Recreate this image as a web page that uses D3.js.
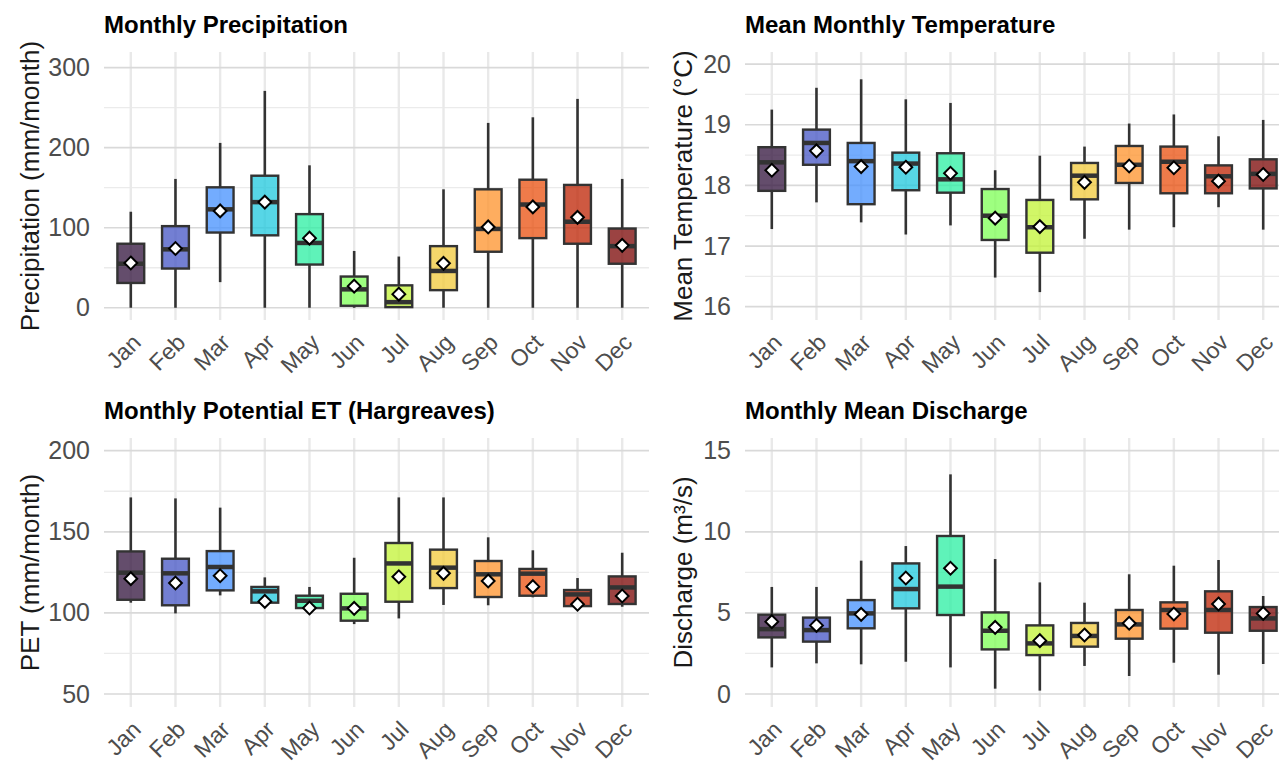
<!DOCTYPE html>
<html>
<head>
<meta charset="utf-8">
<script src="https://cdn.jsdelivr.net/npm/d3@7"></script>
<style>
  html, body { margin: 0; padding: 0; background: #ffffff; overflow: hidden; }
  svg { display: block; font-family: "Liberation Sans", Arial, sans-serif; }
</style>
</head>
<body>
<svg id="chart" width="1279" height="761"></svg>
<script>
// ---------------- DATA ----------------
const months = ["Jan","Feb","Mar","Apr","May","Jun","Jul","Aug","Sep","Oct","Nov","Dec"];

// Precipitation (mm/month)
const precipMin  = [0, 0, 32, 0, 0, 0, 0, 0, 0, 0, 0, 0];
const precipQ1   = [31, 49, 94, 90.5, 54, 2.5, 0.8, 22, 70, 87, 80, 55];
const precipMed  = [55, 73, 123, 132, 81, 23, 7, 46, 98.5, 129, 107.5, 77];
const precipQ3   = [80, 102, 150.5, 165, 117, 39, 28, 77, 148, 160, 153.5, 99];
const precipMax  = [120, 161, 206, 271, 178, 71, 64, 148, 231, 238, 261, 161];
const precipMean = [56, 74, 121, 132, 87, 27, 17, 55.5, 101, 126, 113, 78];

// Mean temperature (°C)
const tempMin  = [17.28, 17.72, 17.39, 17.19, 17.34, 16.48, 16.24, 17.12, 17.27, 17.31, 17.64, 17.27];
const tempQ1   = [17.91, 18.34, 17.69, 17.92, 17.88, 17.10, 16.89, 17.77, 18.04, 17.87, 17.87, 17.95];
const tempMed  = [18.38, 18.70, 18.40, 18.36, 18.10, 17.50, 17.31, 18.16, 18.34, 18.39, 18.15, 18.19];
const tempQ3   = [18.63, 18.92, 18.70, 18.54, 18.53, 17.94, 17.76, 18.37, 18.65, 18.64, 18.33, 18.43];
const tempMax  = [19.25, 19.61, 19.75, 19.42, 19.36, 18.25, 18.49, 18.64, 19.02, 19.17, 18.81, 19.08];
const tempMean = [18.25, 18.57, 18.31, 18.30, 18.20, 17.46, 17.32, 18.05, 18.32, 18.29, 18.07, 18.18];

// Potential ET, Hargreaves (mm/month)
const petMin  = [106.3, 99.7, 110.8, 104.7, 102.5, 93.1, 96.6, 104.9, 104.7, 109.6, 103.8, 103.8];
const petQ1   = [108.1, 104.7, 113.9, 106.3, 103.0, 95.2, 106.9, 115.3, 109.8, 110.6, 104.2, 105.5];
const petMed  = [124.8, 124.4, 128.3, 113.3, 107.5, 102.8, 130.5, 127.9, 123.8, 124.2, 111.4, 115.7];
const petQ3   = [137.9, 133.4, 138.1, 116.0, 110.6, 111.8, 143.1, 139.0, 132.0, 127.1, 114.1, 122.5];
const petMax  = [171.2, 170.6, 164.9, 121.9, 116.0, 134.0, 171.2, 171.2, 146.6, 138.6, 121.5, 137.1];
const petMean = [121.1, 118.4, 122.9, 107.1, 103.0, 102.8, 122.3, 124.4, 119.7, 116.2, 105.3, 110.4];

// Mean discharge (m³/s)
const qMin  = [1.64, 1.89, 1.83, 1.99, 1.64, 0.33, 0.21, 1.73, 1.11, 1.93, 1.19, 1.85];
const qQ1   = [3.49, 3.23, 4.05, 5.28, 4.87, 2.75, 2.40, 2.92, 3.41, 4.03, 3.78, 3.90];
const qMed  = [4.00, 3.94, 4.97, 6.47, 6.62, 3.90, 3.12, 3.58, 4.29, 5.18, 5.18, 4.66];
const qQ3   = [4.89, 4.71, 5.79, 8.05, 9.74, 5.03, 4.23, 4.38, 5.18, 5.65, 6.33, 5.36];
const qMax  = [6.60, 6.60, 8.22, 9.12, 13.54, 8.32, 6.88, 5.63, 7.38, 7.91, 8.26, 6.04];
const qMean = [4.46, 4.23, 4.91, 7.15, 7.75, 4.11, 3.29, 3.64, 4.36, 4.93, 5.55, 4.97];

// Tick values
const precipTicks = [0, 100, 200, 300];
const tempTicks   = [16, 17, 18, 19, 20];
const petTicks    = [50, 100, 150, 200];
const qTicks      = [0, 5, 10, 15];

// Month palette (turbo)
const palette = ["#30123B","#4454C4","#4490FE","#1FC8DE","#29EFA2","#7DFF56",
                 "#C1F334","#F1CA3A","#FE922A","#EA4F0D","#BE2102","#7A0403"];

// ---------------- LAYOUT ----------------
const svg = d3.select("#chart");

const panels = [
  { title: "Monthly Precipitation", ylab: "Precipitation (mm/month)",
    x0: 104, x1: 649, y0: 52, y1: 320, domain: [-15.3, 319.6], ticks: precipTicks,
    stats: [precipMin, precipQ1, precipMed, precipQ3, precipMax, precipMean], labX: 30 },
  { title: "Mean Monthly Temperature", ylab: "Mean Temperature (°C)",
    x0: 745, x1: 1290, y0: 52, y1: 320, domain: [15.78, 20.2], ticks: tempTicks,
    stats: [tempMin, tempQ1, tempMed, tempQ3, tempMax, tempMean], labX: 683 },
  { title: "Monthly Potential ET (Hargreaves)", ylab: "PET (mm/month)",
    x0: 104, x1: 649, y0: 438, y1: 707, domain: [41.99, 207.83], ticks: petTicks,
    stats: [petMin, petQ1, petMed, petQ3, petMax, petMean], labX: 30 },
  { title: "Monthly Mean Discharge", ylab: "Discharge (m³/s)",
    x0: 745, x1: 1290, y0: 438, y1: 707, domain: [-0.80, 15.78], ticks: qTicks,
    stats: [qMin, qQ1, qMed, qQ3, qMax, qMean], labX: 683 }
];

panels.forEach(p => {
  const g = svg.append("g");
  const x = d3.scalePoint().domain(months).range([p.x0, p.x1]).padding(0.6);
  const y = d3.scaleLinear().domain(p.domain).range([p.y1, p.y0]);
  const step = x.step();
  const bw = step * 0.6;

  // minor gridlines (midpoints between major ticks)
  const tk = p.ticks;
  const dt = tk[1] - tk[0];
  const minor = [];
  for (let v = tk[0] - dt / 2; v <= p.domain[1]; v += dt) {
    if (v >= p.domain[0]) minor.push(v);
  }
  g.append("g").selectAll("line").data(minor).join("line")
    .attr("x1", p.x0).attr("x2", p.x1)
    .attr("y1", d => y(d)).attr("y2", d => y(d))
    .attr("stroke", "#ebebeb").attr("stroke-width", 1.3);

  // vertical major gridlines
  g.append("g").selectAll("line").data(months).join("line")
    .attr("x1", d => x(d)).attr("x2", d => x(d))
    .attr("y1", p.y0).attr("y2", p.y1)
    .attr("stroke", "#e9e9e9").attr("stroke-width", 2.4);

  // horizontal major gridlines
  g.append("g").selectAll("line").data(tk).join("line")
    .attr("x1", p.x0).attr("x2", p.x1)
    .attr("y1", d => y(d)).attr("y2", d => y(d))
    .attr("stroke", "#d9d9d9").attr("stroke-width", 1.7);

  // y axis (labels only)
  const yAxis = d3.axisLeft(y).tickValues(tk).tickSize(0).tickPadding(0).tickFormat(d3.format("d"));
  const ya = g.append("g").attr("transform", `translate(${p.x0 - 14},0)`).call(yAxis);
  ya.select(".domain").remove();
  ya.selectAll("text").attr("fill", "#4d4d4d").style("font-size", "25px")
    .style("font-family", "Liberation Sans, Arial, sans-serif");

  // x axis (rotated labels)
  const xAxis = d3.axisBottom(x).tickSize(0).tickPadding(0);
  const xa = g.append("g").attr("transform", `translate(0,${p.y1})`).call(xAxis);
  xa.select(".domain").remove();
  xa.selectAll("text")
    .attr("fill", "#4d4d4d").style("font-size", "23px")
    .style("font-family", "Liberation Sans, Arial, sans-serif")
    .attr("text-anchor", "end")
    .attr("dy", 0)
    .attr("y", 0)
    .attr("transform", "translate(-1,12) rotate(-45)")
    .attr("dominant-baseline", "hanging");

  // titles
  g.append("text").attr("x", p.x0).attr("y", p.y0 - 19)
    .text(p.title).attr("font-weight", "bold").attr("font-size", "24px").attr("fill", "#000");
  g.append("text")
    .attr("transform", `translate(${p.labX},${(p.y0 + p.y1) / 2}) rotate(-90)`)
    .attr("text-anchor", "middle").attr("dominant-baseline", "central")
    .attr("font-size", "26px").attr("fill", "#1a1a1a")
    .text(p.ylab);

  const [mn, q1, md, q3, mx, me] = p.stats;
  const data = months.map((m, i) => ({ m, i, mn: mn[i], q1: q1[i], md: md[i], q3: q3[i], mx: mx[i], me: me[i] }));
  const marks = g.append("g");

  // whiskers
  marks.selectAll("line.wu").data(data).join("line").attr("class", "wu")
    .attr("x1", d => x(d.m)).attr("x2", d => x(d.m))
    .attr("y1", d => y(d.q3)).attr("y2", d => y(d.mx))
    .attr("stroke", "#333333").attr("stroke-width", 2.6);
  marks.selectAll("line.wl").data(data).join("line").attr("class", "wl")
    .attr("x1", d => x(d.m)).attr("x2", d => x(d.m))
    .attr("y1", d => y(d.q1)).attr("y2", d => y(d.mn))
    .attr("stroke", "#333333").attr("stroke-width", 2.6);

  // boxes
  marks.selectAll("rect.box").data(data).join("rect").attr("class", "box")
    .attr("x", d => x(d.m) - bw / 2).attr("width", bw)
    .attr("y", d => y(d.q3)).attr("height", d => y(d.q1) - y(d.q3))
    .attr("fill", d => palette[d.i]).attr("fill-opacity", 0.75)
    .attr("stroke", "#333333").attr("stroke-width", 2.4);

  // medians
  marks.selectAll("line.med").data(data).join("line").attr("class", "med")
    .attr("x1", d => x(d.m) - bw / 2).attr("x2", d => x(d.m) + bw / 2)
    .attr("y1", d => y(d.md)).attr("y2", d => y(d.md))
    .attr("stroke", "#333333").attr("stroke-width", 4.5);

  // means (diamonds)
  const r = 6.4;
  marks.selectAll("path.mean").data(data).join("path").attr("class", "mean")
    .attr("d", d => {
      const cx = x(d.m), cy = y(d.me);
      return `M${cx},${cy - r}L${cx + r},${cy}L${cx},${cy + r}L${cx - r},${cy}Z`;
    })
    .attr("fill", "#ffffff").attr("stroke", "#000000").attr("stroke-width", 2);
});
</script>
</body>
</html>
